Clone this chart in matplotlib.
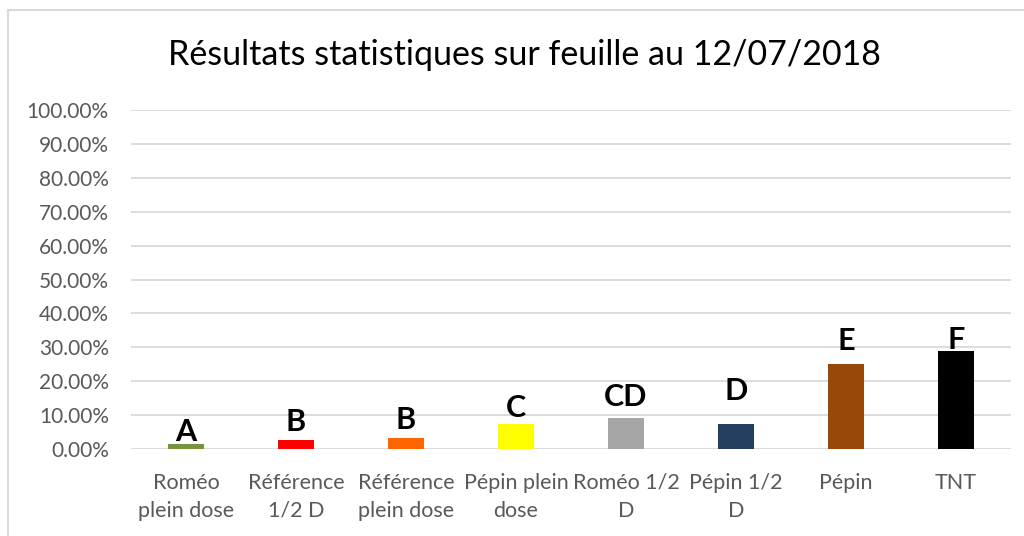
import matplotlib.pyplot as plt
from matplotlib.patches import Rectangle
from matplotlib.ticker import FuncFormatter

plt.rcParams['font.family'] = ['Lato', 'DejaVu Sans']

# traitements et resultats (fraction)
categories = ["Roméo\nplein dose", "Référence\n1/2 D", "Référence\nplein dose", "Pépin plein\ndose",
              "Roméo 1/2\nD", "Pépin 1/2\nD", "Pépin", "TNT"]
values = [0.015, 0.027, 0.033, 0.074, 0.092, 0.074, 0.251, 0.289]
groups = ["A", "B", "B", "C", "CD", "D", "E", "F"]

colors = ['#77933C', '#FF0000', '#FF6600', '#FFFF00', '#A6A6A6', '#243F60', '#984807', '#000000']
# hauteur des lettres au dessus des barres
label_gap = [0.035, 0.053, 0.052, 0.047, 0.062, 0.096, 0.068, 0.033]

fig = plt.figure(figsize=(10.24, 5.36), dpi=100)
fig.patches.append(Rectangle((8/1024, -0.1), 1.1, 1 - 10/536 + 0.1, transform=fig.transFigure,
                             fill=False, edgecolor='#d9d9d9', lw=1.5))
ax = fig.add_axes([131/1024, 1 - 449/536, 880/1024, 339/536])

x = range(len(categories))
ax.bar(x, values, width=0.32, color=colors, zorder=3)

for i in x:
    ax.text(i, values[i] + label_gap[i], groups[i], ha='center', va='center',
            fontsize=22, fontweight='bold', color='black', zorder=4)

ax.set_ylim(0, 1)
ax.set_xlim(-0.5, len(categories) - 0.5)
ax.set_yticks([i / 10 for i in range(11)])
ax.yaxis.set_major_formatter(FuncFormatter(lambda v, p: f"{v*100:.2f}%"))
ax.yaxis.grid(True, color='#d9d9d9', lw=1.3, zorder=0)
ax.set_axisbelow(True)
ax.set_xticks(list(x))
ax.set_xticklabels(categories, fontsize=15.5, color='#595959', linespacing=1.5)
ax.tick_params(axis='both', length=0)
ax.tick_params(axis='y', labelsize=15, labelcolor='#595959', pad=16)
ax.tick_params(axis='x', pad=17)
for s in ax.spines.values():
    s.set_visible(False)

fig.text(524/1024, 1 - 55/536, "Résultats statistiques sur feuille au 12/07/2018",
         ha='center', va='center', fontsize=24.5, color='black')

plt.savefig("out.png", dpi=100)
